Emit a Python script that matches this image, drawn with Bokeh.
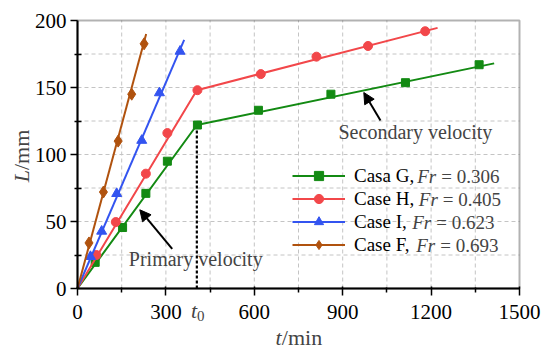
import math
from bokeh.plotting import figure
from bokeh.models import (Range1d, FixedTicker, Legend, LegendItem, Label,
                          Arrow, NormalHead, LinearAxis, BoxAnnotation)
from bokeh.embed import file_html
from bokeh.resources import INLINE

# ---------------- data ----------------
x_ticks = [0, 300, 600, 900, 1200, 1500]
x_minor = [150, 450, 750, 1050, 1350]
y_ticks = [0, 50, 100, 150, 200]
y_minor = [25, 75, 125, 175]
x_lim = [0, 1500]
y_lim = [0, 200]

t0 = 405

G_t = [60, 153, 232, 305, 407, 614, 860, 1113, 1363]
G_L = [19.5, 45.5, 71, 95, 122, 133, 145, 153.6, 167]
G_fit_t = [0, t0, 1414]
G_fit_L = [0, 122, 168]

H_t = [64, 130, 232, 305, 407, 622, 811, 986, 1180]
H_L = [25, 49.6, 85.7, 116, 148, 160, 173, 181, 192]
H_fit_t = [0, t0, 1222]
H_fit_L = [0, 148, 194.5]

I_t = [44, 82, 133, 218, 278, 348]
I_L = [23.8, 42.7, 70.8, 110.5, 146, 177]
I_fit_t = [0, 362]
I_fit_L = [0, 185.6]

F_t = [39, 88, 138, 184, 226]
F_L = [34, 72, 110, 145, 182.6]
F_fit_t = [0, 233]
F_fit_L = [0, 190]

names = ["Casa G,", "Case H,", "Case I,", "Case F,"]
fr_vals = ["= 0.306", "= 0.405", "= 0.623", "= 0.693"]

GREEN = "#138a13"
RED = "#f2474a"
BLUE = "#3354f0"
BROWN = "#b0520e"
GRID = "#c4c4c4"

FONT = "Liberation Serif"

# canvas pixel -> data helpers (plot box spans canvas x 77..519, y 20..288)
X0, XPX = 77.0, 442.0 / 1500.0
Y0, YPX = 288.0, 268.0 / 200.0
def px2x(px):
    return (px - X0) / XPX
def py2y(py):
    return (Y0 - py) / YPX

W, H = 550, 350
p = figure(width=W, height=H, output_backend="svg", toolbar_location=None,
           x_range=Range1d(px2x(0), px2x(W)),
           y_range=Range1d(py2y(H), py2y(0)),
           x_axis_location=None, y_axis_location=None, min_border=0)
p.background_fill_color = "white"
p.border_fill_color = "white"
p.outline_line_color = None
p.grid.visible = False

# dashed grid (major + minor ticks), inside the plot box only
gx = [v for v in sorted(x_ticks + x_minor) if x_lim[0] < v < x_lim[1]]
gy = [v for v in sorted(y_ticks + y_minor) if y_lim[0] < v < y_lim[1]]
p.segment(x0=gx, y0=[y_lim[0]] * len(gx), x1=gx, y1=[y_lim[1]] * len(gx),
          line_color=GRID, line_width=1, line_dash="4 3", level="underlay")
p.segment(x0=[x_lim[0]] * len(gy), y0=gy, x1=[x_lim[1]] * len(gy), y1=gy,
          line_color=GRID, line_width=1, line_dash="4 3", level="underlay")

# plot box
p.add_layout(BoxAnnotation(left=x_lim[0], right=x_lim[1], bottom=y_lim[0],
                           top=y_lim[1], fill_alpha=0, line_color="black",
                           line_width=2))

xaxis = LinearAxis(fixed_location=0, bounds=(x_lim[0], x_lim[1]),
                   ticker=FixedTicker(ticks=x_ticks, minor_ticks=x_minor))
yaxis = LinearAxis(fixed_location=0, bounds=(y_lim[0], y_lim[1]),
                   ticker=FixedTicker(ticks=y_ticks, minor_ticks=y_minor))
for ax in (xaxis, yaxis):
    ax.axis_line_width = 2
    ax.axis_line_color = "black"
    ax.major_tick_line_width = 1.5
    ax.minor_tick_line_width = 1.5
    ax.major_tick_line_color = "black"
    ax.minor_tick_line_color = "black"
    ax.major_label_text_font = FONT
    ax.major_label_text_font_size = "21px"
    ax.major_label_text_color = "black"
xaxis.major_tick_in = 2
xaxis.major_tick_out = 7
xaxis.minor_tick_in = 1
xaxis.minor_tick_out = 4
xaxis.major_label_standoff = 9
yaxis.major_tick_in = 0
yaxis.major_tick_out = 7
yaxis.minor_tick_in = 4
yaxis.minor_tick_out = 3
yaxis.major_label_standoff = 4
p.add_layout(xaxis, "below")
p.add_layout(yaxis, "left")

# t0 dashed line
p.line([t0, t0], [0, G_fit_L[1]], line_color="black", line_width=2.2,
       line_dash="3 2")

items = []
series = [
    (G_fit_t, G_fit_L, G_t, G_L, GREEN, "square", 8),
    (H_fit_t, H_fit_L, H_t, H_L, RED, "circle", 9),
    (I_fit_t, I_fit_L, I_t, I_L, BLUE, "triangle", 10),
    (F_fit_t, F_fit_L, F_t, F_L, BROWN, "diamond", 12),
]
for (ft, fl, t, L, c, m, s), nm in zip(series, names):
    lr = p.line(ft, fl, line_color=c, line_width=2)
    sr = p.scatter(t, L, marker=m, size=s, fill_color=c, line_color=c)
    items.append(LegendItem(label=nm, renderers=[lr, sr]))

legend = Legend(items=items, location=(292, H - 256), glyph_width=53,
                glyph_height=23, label_height=23, spacing=0, padding=0,
                margin=0, label_standoff=9, border_line_alpha=0,
                background_fill_alpha=0, label_text_font=FONT,
                label_text_font_size="19px", label_text_color="black")
p.add_layout(legend)

SHIFT = 5  # compensates rendered baseline offset

def label(px, py, text, size, italic=False, angle=0.0, baseline="alphabetic"):
    if baseline == "alphabetic":
        py = py - SHIFT
    p.add_layout(Label(x=px2x(px), y=py2y(py), text=text, text_font=FONT,
                       text_font_style="italic" if italic else "normal",
                       text_font_size=size, text_baseline=baseline,
                       text_align="left", angle=angle))

def vlabel(px, py, text, size, italic=False):
    p.add_layout(Label(x=px2x(px), y=py2y(py), text=text, text_font=FONT,
                       text_font_style="italic" if italic else "normal",
                       text_font_size=size, text_baseline="alphabetic",
                       text_align="left", angle=math.pi / 2))

# italic Fr parts of legend
fr_px = [416.7, 418.3, 411.7, 415.7]
row_py = [175.5, 198.5, 221.5, 244.5]
for fx, ry, fv in zip(fr_px, row_py, fr_vals):
    label(fx, ry, "Fr", "19px", italic=True, baseline="middle")
    label(fx + 24, ry, fv, "19px", baseline="middle")

# annotations
label(338, 136.7, "Secondary velocity", "20px")
p.add_layout(Arrow(end=NormalHead(size=11, fill_color="black",
                                  line_color="black"),
                   x_start=px2x(380), y_start=py2y(120),
                   x_end=px2x(363.3), y_end=py2y(92),
                   line_width=2, line_color="black"))
label(128.3, 263.3, "Primary velocity", "20px")
p.add_layout(Arrow(end=NormalHead(size=11, fill_color="black",
                                  line_color="black"),
                   x_start=px2x(171.7), y_start=py2y(248.3),
                   x_end=px2x(139.3), y_end=py2y(209.3),
                   line_width=2, line_color="black"))

# t0 label
label(190.5, 315, "t", "22px", italic=True)
label(196.5, 320, "0", "15px")
# axis titles
label(275, 341.7, "t", "22px", italic=True)
label(281.3, 341.7, "/min", "22px")
vlabel(21, 181.7, "L", "22px", italic=True)
vlabel(21, 169.5, "/mm", "22px")

open("out.html", "w").write(file_html(p, INLINE))
